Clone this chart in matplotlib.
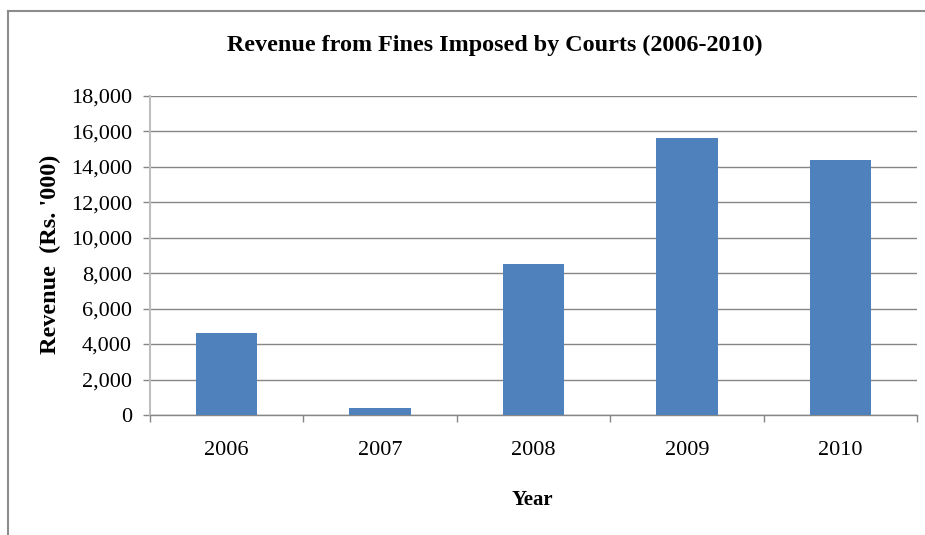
import matplotlib
matplotlib.use("Agg")
import matplotlib.pyplot as plt
from matplotlib.lines import Line2D
from matplotlib.ticker import FuncFormatter, MultipleLocator

years = ["2006", "2007", "2008", "2009", "2010"]
revenue = [4600, 380, 8500, 15600, 14400]

title = "Revenue from Fines Imposed by Courts (2006-2010)"
ylabel = "Revenue  (Rs. '000)"
xlabel = "Year"

plt.rcParams['font.family'] = ['Liberation Serif', 'DejaVu Serif']

fig = plt.figure(figsize=(9.25, 5.35), dpi=100)
ax = fig.add_axes([150/925, 1-415/535, (917-150)/925, (415-95.7)/535])

grid_c = "#868686"
x = list(range(len(years)))
ax.bar(x, revenue, width=0.4, color="#4F81BD", zorder=3)

ax.set_ylim(0, 18000)
ax.set_xlim(-0.5, len(years) - 0.5)
ax.yaxis.set_major_locator(MultipleLocator(2000))
ax.yaxis.set_major_formatter(FuncFormatter(lambda v, p: f"{int(v):,}"))
ax.grid(axis='y', color=grid_c, linewidth=1.0, zorder=0)
ax.set_axisbelow(True)

ax.set_xticks(x)
ax.set_xticklabels(years)
ax.set_xticks([i - 0.5 for i in range(len(years) + 1)], minor=True)
ax.tick_params(axis='x', which='major', length=0, pad=19, labelsize=16)
ax.tick_params(axis='x', which='minor', length=5, color=grid_c, width=1)
ax.tick_params(axis='y', length=5, color=grid_c, width=1, pad=8, labelsize=16)

for s in ['top', 'right']:
    ax.spines[s].set_visible(False)
ax.spines['left'].set_color("#bfbfbf")
ax.spines['left'].set_linewidth(1.5)
ax.spines['bottom'].set_color(grid_c)
ax.spines['bottom'].set_linewidth(1.0)

fig.text(495/925, 1-45/535, title, ha='center', va='center',
         fontsize=17.4, fontweight='bold')
fig.text(50/925, 1-254/535, ylabel, ha='center', va='center',
         rotation=90, fontsize=17.5, fontweight='bold')
fig.text(532/925, 1-500/535, xlabel, ha='center', va='center',
         fontsize=15, fontweight='bold')

# outer frame (left and top visible)
fig.add_artist(Line2D([8/925, 8/925], [0, 1-11/535], transform=fig.transFigure,
                      color="#8c8c8c", linewidth=1.5))
fig.add_artist(Line2D([8/925, 1], [1-11/535, 1-11/535], transform=fig.transFigure,
                      color="#8c8c8c", linewidth=1.5))

fig.savefig("out.png", dpi=100, facecolor="white")
